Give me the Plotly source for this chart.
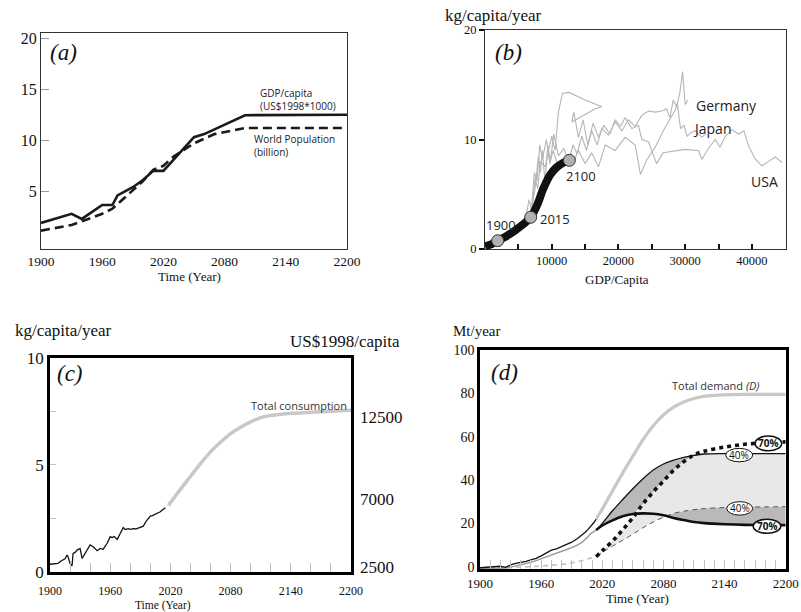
import plotly.graph_objects as go

SERIF = "Liberation Serif"
SANS = "Open Sans"

# ---------------- (a) ----------------
a_gdp_years = [1900, 1930, 1940, 1960, 1970, 1975, 1990, 2000, 2010, 2020, 2050, 2060, 2100, 2200]
a_gdp_vals = [1.9, 2.8, 2.3, 3.66, 3.66, 4.6, 5.4, 6.1, 7.0, 7.0, 10.3, 10.6, 12.45, 12.5]
a_pop_years = [1900, 1930, 1960, 1970, 1980, 2000, 2010, 2020, 2030, 2050, 2070, 2100, 2200]
a_pop_vals = [1.15, 1.7, 2.8, 3.3, 4.2, 6.0, 7.1, 7.5, 8.4, 9.7, 10.6, 11.2, 11.2]
a_x_ticks = [1900, 1960, 2020, 2080, 2140, 2200]
a_y_ticks = [5, 10, 15, 20]

# ---------------- (b) ----------------
b_ger_gdp = [6800, 7500, 8000, 8300, 8600, 9000, 9400, 9800, 10300, 11000, 11800, 12500, 13200, 13800,
             14500, 15200, 16000, 16800, 17500, 18500, 19500, 20500, 21500, 22500, 23500, 24500, 25500,
             26500, 27200, 27700, 28200, 28700, 29200, 29600, 30000, 30400]
b_ger_val = [3.0, 5.5, 8.5, 7.0, 9.0, 6.0, 9.5, 8.0, 10.5, 8.5, 9.2, 8.0, 9.5, 8.7, 10.3, 9.0, 10.8, 9.5,
             11.0, 10.4, 11.6, 10.8, 11.8, 11.2, 12.2, 12.6, 12.5, 12.6, 12.8, 12.0, 13.6, 13.0, 14.3, 16.2,
             13.2, 13.6]
b_jpn_gdp = [7000, 7400, 7800, 8200, 8600, 9200, 9700, 10200, 11000, 12000, 13000, 14000, 15000, 16000,
             17000, 18000, 19500, 21000, 22500, 23300, 24200, 25500, 26800, 27800, 28500, 28800, 29300,
             29800, 30300, 30800, 31500, 32500, 33000]
b_jpn_val = [4.0, 7.0, 6.2, 9.5, 8.2, 10.0, 7.8, 9.0, 7.5, 8.0, 7.6, 9.0, 7.8, 8.8, 7.5, 9.5, 9.0, 10.2,
             9.5, 6.8, 8.1, 9.3, 10.9, 12.0, 12.7, 13.3, 11.0, 11.3, 10.3, 10.6, 10.8, 10.2, 10.5]
b_usa_gdp = [6000, 6600, 7000, 7500, 7900, 8300, 9000, 9500, 10000, 10500, 11000, 11600, 12600, 15000,
             17500, 16500, 13000, 13300, 14000, 14700, 15400, 16200, 17000, 17800, 18700, 19500, 20300,
             21000, 22000, 23000, 23500, 24500, 25700, 26700, 28500, 30000, 32000, 32500, 33500, 34500,
             35200, 36000, 37000, 38000, 38800, 39500, 40500, 41500, 42500, 43500, 44500]
b_usa_val = [2.5, 4.5, 3.5, 6.5, 5.5, 8.0, 7.5, 9.0, 10.3, 9.0, 12.5, 14.2, 14.3, 13.6, 13.0, 12.8, 11.6,
             12.5, 10.2, 11.8, 9.5, 11.5, 10.2, 11.3, 10.5, 11.8, 11.2, 12.0, 11.0, 11.3, 10.0, 9.8, 7.8,
             8.8, 9.0, 9.1, 9.0, 8.2, 9.2, 10.0, 9.3, 10.3, 10.9, 10.5, 10.8, 9.4, 8.2, 7.6, 8.0, 8.4, 7.9]
b_curve_gdp = [0, 1000, 1900, 3000, 4500, 6000, 6850, 7800, 8800, 9800, 10800, 11800, 12640]
b_curve_val = [0.25, 0.45, 0.76, 1.1, 1.7, 2.4, 2.9, 4.0, 5.6, 6.8, 7.5, 7.9, 8.1]
b_marker_idx = [2, 6, 12]
b_marker_labels = ["1900", "2015", "2100"]
b_x_ticks = [5000, 10000, 15000, 20000, 25000, 30000, 35000, 40000, 45000]
b_y_ticks = [0, 10, 20]

# ---------------- (c) ----------------
c_hist_years = [1900, 1903, 1906, 1908, 1911, 1913, 1915, 1917, 1918, 1920, 1922, 1923, 1925, 1927,
                1930, 1932, 1935, 1938, 1940, 1943, 1945, 1947, 1950, 1953, 1955, 1957, 1960, 1962,
                1964, 1967, 1970, 1973, 1975, 1978, 1980, 1983, 1986, 1990, 1993, 1996, 1998, 2000,
                2002, 2005, 2008, 2010, 2012, 2015]
c_hist_vals = [0.35, 0.36, 0.4, 0.39, 0.5, 0.55, 0.6, 0.78, 0.7, 0.39, 0.28, 0.86, 0.9, 1.01,
               1.09, 0.62, 0.86, 1.15, 1.25, 1.17, 1.05, 0.98, 1.09, 1.05, 1.2, 1.33, 1.64, 1.6,
               1.64, 1.51, 1.79, 2.06, 1.97, 2.01, 1.98, 2.01, 2.0, 2.06, 2.13, 2.37, 2.5, 2.6,
               2.62, 2.68, 2.75, 2.8, 2.88, 2.99]
c_proj_years = [2018, 2030, 2040, 2050, 2060, 2070, 2080, 2090, 2100, 2110, 2120, 2130, 2140, 2160, 2180, 2200]
c_proj_vals = [3.1, 3.85, 4.45, 5.05, 5.6, 6.05, 6.45, 6.75, 7.0, 7.2, 7.3, 7.36, 7.4, 7.45, 7.5, 7.55]
c_x_ticks = list(range(1900, 2201, 20))
c_y_ticks = [0, 2.5, 5, 7.5, 10]
c_right_ticks = [2500, 7000, 12500]

# ---------------- (d) ----------------
d_hist_years = [1900, 1910, 1920, 1925, 1930, 1935, 1940, 1945, 1950, 1955, 1960, 1965, 1970, 1975,
                1980, 1985, 1990, 1995, 2000, 2003, 2006, 2009, 2012, 2014]
d_hist_black = [-0.5, -0.2, 0.2, -0.3, 0.8, 1.5, 1.8, 2.4, 3.1, 3.8, 5.0, 6.2, 7.6, 8.2,
                9.2, 10.0, 11.3, 12.8, 14.5, 15.8, 17.2, 18.8, 20.5, 22.0]
d_hist_gray = [-0.8, -0.7, -0.5, -0.6, -0.2, 0.3, 0.8, 1.3, 2.0, 2.8, 3.6, 4.6, 5.4, 6.3,
               7.0, 7.9, 8.8, 9.8, 11.2, 12.3, 13.8, 15.4, 16.2, 16.9]
d_hist_dash_years = [1900, 1930, 1950, 1970, 1985, 1995, 2005, 2014]
d_hist_dash_vals = [-1.0, -0.6, 0.0, 0.6, 1.3, 2.2, 3.3, 4.6]
d_years = [2014, 2020, 2030, 2040, 2050, 2060, 2070, 2080, 2090, 2100, 2110, 2120, 2140, 2160, 2180, 2200]
d_demand = [22.0, 26.6, 35.0, 43.2, 51.0, 58.6, 65.0, 70.0, 73.6, 76.0, 77.6, 78.6, 79.3, 79.5, 79.5, 79.5]
d_prim40 = [16.9, 20.0, 25.8, 31.0, 36.0, 40.6, 44.6, 47.4, 49.2, 50.5, 51.4, 52.0, 52.2, 52.2, 52.2, 52.2]
d_rec70 = [4.6, 7.4, 11.8, 17.0, 22.6, 29.0, 34.5, 39.5, 44.5, 48.5, 51.6, 53.3, 55.2, 56.5, 57.2, 57.6]
d_prim70 = [16.9, 19.0, 21.4, 23.3, 24.3, 24.6, 24.4, 23.7, 22.5, 21.5, 20.6, 20.1, 19.6, 19.3, 19.2, 19.2]
d_rec40 = [4.6, 6.6, 9.5, 12.2, 15.0, 18.0, 20.6, 22.8, 24.6, 25.6, 26.3, 26.8, 27.3, 27.5, 27.6, 27.7]
d_x_ticks = list(range(1900, 2201, 10))
d_y_ticks = [0, 20, 40, 60, 80, 100]


def lbl(v, step):
    return str(v) if (v - 1900) % step == 0 else ""


fig = go.Figure()
common = dict(showlegend=False, hoverinfo="skip")

# (a)
fig.add_trace(go.Scatter(x=a_gdp_years, y=a_gdp_vals, mode="lines", xaxis="x", yaxis="y",
                         line=dict(color="#1a1a1a", width=2.6), **common))
fig.add_trace(go.Scatter(x=a_pop_years, y=a_pop_vals, mode="lines", xaxis="x", yaxis="y",
                         line=dict(color="#1a1a1a", width=2.6, dash="9px,5px"), **common))

# (b)
for gx, gy in [(b_usa_gdp, b_usa_val), (b_jpn_gdp, b_jpn_val), (b_ger_gdp, b_ger_val)]:
    fig.add_trace(go.Scatter(x=gx, y=gy, mode="lines", xaxis="x2", yaxis="y2",
                             line=dict(color="#b5b5b5", width=1.1), **common))
fig.add_trace(go.Scatter(x=b_curve_gdp, y=b_curve_val, mode="lines", xaxis="x2", yaxis="y2",
                         line=dict(color="#111111", width=8, shape="spline"), **common))
fig.add_trace(go.Scatter(x=[b_curve_gdp[i] for i in b_marker_idx], y=[b_curve_val[i] for i in b_marker_idx],
                         mode="markers", xaxis="x2", yaxis="y2",
                         marker=dict(size=12, color="#b0b0b0", line=dict(color="#333", width=1)), **common))

# (c)
fig.add_trace(go.Scatter(x=c_hist_years, y=c_hist_vals, mode="lines", xaxis="x3", yaxis="y3",
                         line=dict(color="#111111", width=1.3), **common))
fig.add_trace(go.Scatter(x=c_proj_years, y=c_proj_vals, mode="lines", xaxis="x3", yaxis="y3",
                         line=dict(color="#c8c8c8", width=3.5, shape="spline"), **common))
# empty trace that registers the right-hand GDP axis of panel (c)
fig.add_trace(go.Scatter(x=[None] * len(c_right_ticks), y=c_right_ticks, mode="lines", xaxis="x3",
                         yaxis="y5", line=dict(color="rgba(0,0,0,0)"), **common))

# (d) fills
light_top = [min(p, r) for p, r in zip(d_prim40, d_rec70)]
dark_up_low = [min(p, max(r, q)) for p, r, q in zip(d_prim40, d_rec70, d_prim70)]
dark_lo_low = [min(q, r) for q, r in zip(d_prim70, d_rec40)]
fill_sh = dict(shape="spline", smoothing=0.8, width=0)
fig.add_trace(go.Scatter(x=d_years, y=d_rec40, mode="lines", xaxis="x4", yaxis="y4",
                         line=dict(color="rgba(0,0,0,0)", **fill_sh), **common))
fig.add_trace(go.Scatter(x=d_years, y=light_top, mode="lines", xaxis="x4", yaxis="y4", fill="tonexty",
                         fillcolor="#e8e8e8", line=dict(color="rgba(0,0,0,0)", **fill_sh), **common))
fig.add_trace(go.Scatter(x=d_years, y=dark_up_low, mode="lines", xaxis="x4", yaxis="y4",
                         line=dict(color="rgba(0,0,0,0)", **fill_sh), **common))
fig.add_trace(go.Scatter(x=d_years, y=d_prim40, mode="lines", xaxis="x4", yaxis="y4", fill="tonexty",
                         fillcolor="#b9b9b9", line=dict(color="rgba(0,0,0,0)", **fill_sh), **common))
fig.add_trace(go.Scatter(x=d_years, y=dark_lo_low, mode="lines", xaxis="x4", yaxis="y4",
                         line=dict(color="rgba(0,0,0,0)", **fill_sh), **common))
fig.add_trace(go.Scatter(x=d_years, y=d_rec40, mode="lines", xaxis="x4", yaxis="y4", fill="tonexty",
                         fillcolor="#b9b9b9", line=dict(color="rgba(0,0,0,0)", **fill_sh), **common))

# (d) lines
fig.add_trace(go.Scatter(x=d_hist_dash_years, y=d_hist_dash_vals, mode="lines", xaxis="x4", yaxis="y4",
                         line=dict(color="#bdbdbd", width=1.5, dash="5px,4px"), **common))
fig.add_trace(go.Scatter(x=d_hist_years, y=d_hist_gray, mode="lines", xaxis="x4", yaxis="y4",
                         line=dict(color="#9a9a9a", width=1.5), **common))
fig.add_trace(go.Scatter(x=d_hist_years, y=d_hist_black, mode="lines", xaxis="x4", yaxis="y4",
                         line=dict(color="#111111", width=1.3), **common))
fig.add_trace(go.Scatter(x=d_years, y=d_demand, mode="lines", xaxis="x4", yaxis="y4",
                         line=dict(color="#c8c8c8", width=3.2, shape="spline"), **common))
fig.add_trace(go.Scatter(x=d_years, y=d_rec40, mode="lines", xaxis="x4", yaxis="y4",
                         line=dict(color="#555555", width=1, dash="5px,4px", shape="spline"), **common))
fig.add_trace(go.Scatter(x=d_years, y=d_prim40, mode="lines", xaxis="x4", yaxis="y4",
                         line=dict(color="#111111", width=1.3, shape="spline"), **common))
fig.add_trace(go.Scatter(x=d_years, y=d_prim70, mode="lines", xaxis="x4", yaxis="y4",
                         line=dict(color="#111111", width=2.6, shape="spline"), **common))
fig.add_trace(go.Scatter(x=d_years, y=d_rec70, mode="lines", xaxis="x4", yaxis="y4",
                         line=dict(color="#111111", width=3.6, dash="4px,4px", shape="spline"), **common))


def tickfont(s):
    return dict(family=SERIF, size=s, color="#111")


base = dict(showgrid=False, zeroline=False, automargin=False)
box_thin = dict(showline=True, mirror=True, linecolor="#333", linewidth=1.2, **base)
box_thick = dict(showline=True, mirror=True, linecolor="#000", linewidth=2.6, **base)

fig.update_layout(
    template="none",
    width=801, height=612, margin=dict(l=0, r=0, t=0, b=0, pad=0, autoexpand=False),
    paper_bgcolor="white", plot_bgcolor="white",
    xaxis=dict(domain=[0.0512, 0.4332], range=[1900, 2200], anchor="y", tickvals=a_x_ticks,
               ticks="", tickfont=tickfont(13.5), **box_thin),
    yaxis=dict(domain=[0.5931, 0.9461], range=[-0.65, 20.5], anchor="x", tickvals=a_y_ticks,
               ticks="inside", ticklen=8, tickcolor="#999", tickfont=tickfont(16), **box_thin),
    xaxis2=dict(domain=[0.6055, 0.9813], range=[0, 45100], anchor="y2", tickvals=b_x_ticks,
                ticktext=[str(v) if v % 10000 == 0 else "" for v in b_x_ticks],
                ticks="inside", ticklen=5, tickwidth=1.5, tickcolor="#111", tickfont=tickfont(12.5),
                **box_thin),
    yaxis2=dict(domain=[0.5931, 0.9510], range=[0, 20], anchor="x2", tickvals=b_y_ticks,
                ticks="outside", ticklen=5, tickwidth=1.5, tickcolor="#111", tickfont=tickfont(12.5),
                **box_thin),
    xaxis3=dict(domain=[0.0624, 0.4382], range=[1900, 2200], anchor="y3", tickvals=c_x_ticks,
                ticktext=[lbl(v, 60) for v in c_x_ticks], ticks="inside", ticklen=9, tickcolor="#c0c0c0",
                ticklabelstandoff=6, tickfont=tickfont(12), **box_thick),
    yaxis3=dict(domain=[0.0658, 0.4155], range=[0, 10], anchor="x3", tickvals=c_y_ticks,
                ticktext=["0", "", "5", "", "10"], ticks="inside", ticklen=6, tickcolor="#c0c0c0",
                tickfont=tickfont(17), **box_thick),
    yaxis5=dict(overlaying="y3", side="right", anchor="x3", range=[2167, 16433], tickvals=c_right_ticks,
                ticktext=[str(v) for v in c_right_ticks], ticklabelstandoff=8,
                showline=False, ticks="", tickfont=tickfont(17), **base),
    xaxis4=dict(domain=[0.5993, 0.9809], range=[1900, 2200], anchor="y4", tickvals=d_x_ticks,
                ticktext=[lbl(v, 60) for v in d_x_ticks], ticks="inside", ticklen=9, tickcolor="#c0c0c0",
                tickfont=tickfont(13), **box_thick),
    yaxis4=dict(domain=[0.0698, 0.4281], range=[-1.2, 100], anchor="x4", tickvals=d_y_ticks,
                ticks="", tickfont=tickfont(14), **box_thick),
)

ann = []


def A(text, x, y, xref, yref, size, family=SERIF, xanchor="center", color="#111", align="center"):
    ann.append(dict(text=text, x=x, y=y, xref=xref, yref=yref, showarrow=False, xanchor=xanchor,
                    yanchor="middle", align=align, font=dict(family=family, size=size, color=color)))


# panel letters
A("<i>(a)</i>", 1922, 18.6, "x", "y", 23)
A("<i>(b)</i>", 3450, 17.9, "x2", "y2", 23)
A("<i>(c)</i>", 1919.5, 9.24, "x3", "y3", 23)
A("<i>(d)</i>", 1924.5, 89.8, "x4", "y4", 23)

# axis titles / units
A("Time (Year)", 0.2372, 0.549, "paper", "paper", 13)
A("GDP/Capita", 0.7703, 0.5425, "paper", "paper", 13)
A("kg/capita/year", 0.6167, 0.974, "paper", "paper", 17)
A("kg/capita/year", 0.0799, 0.4592, "paper", "paper", 17)
A("US$1998/capita", 0.4307, 0.4412, "paper", "paper", 17)
A("Time (Year)", 0.2035, 0.0114, "paper", "paper", 11.5)
A("Mt/year", 0.5943, 0.4592, "paper", "paper", 15)
A("Time (Year)", 0.7965, 0.0215, "paper", "paper", 13)

# (a) series labels
A("GDP/capita<br>(US$1998*1000)", 2112.7, 14.0, "x", "y", 10, SANS, "left", "#222", "left")
A("World Population<br>(billion)", 2106.8, 9.5, "x", "y", 10, SANS, "left", "#222", "left")

# (b) labels
A("Germany", 36150, 13.15, "x2", "y2", 14, SANS, "center", "#222")
A("Japan", 34050, 11.05, "x2", "y2", 14, SANS, "center", "#222")
A("USA", 41850, 6.2, "x2", "y2", 14, SANS, "center", "#222")
for (gx, gy), t in zip([(2400, 2.15), (10500, 2.75), (14400, 6.65)], b_marker_labels):
    A(t, gx, gy, "x2", "y2", 13, SANS, "center", "#222")

# (c) label
A("Total consumption", 2148, 7.75, "x3", "y3", 11, SANS, "center", "#333")

# (d) labels
A("Total demand <i>(D)</i>", 2132, 83.8, "x4", "y4", 11, SANS, "center", "#333")

ovals = [
    ("<b>70%</b>", 2170.0, 2196.0, 53.5, 60.3, 1.6),
    ("40%", 2141.1, 2167.6, 48.4, 54.6, 1.0),
    ("40%", 2142.1, 2167.6, 23.8, 30.0, 1.0),
    ("<b>70%</b>", 2168.2, 2195.1, 15.4, 21.9, 1.6),
]
shapes = []
for text, x0, x1, y0, y1, lw in ovals:
    shapes.append(dict(type="circle", xref="x4", yref="y4", x0=x0, x1=x1, y0=y0, y1=y1,
                       fillcolor="white", line=dict(color="#111", width=lw), layer="above"))
    A(text, (x0 + x1) / 2, (y0 + y1) / 2, "x4", "y4", 10, SANS, "center", "#111")

fig.update_layout(annotations=ann, shapes=shapes)
fig.write_html("out.html", config={"displayModeBar": False},
               post_script="document.body.style.margin='0';document.body.style.overflow='hidden';")
